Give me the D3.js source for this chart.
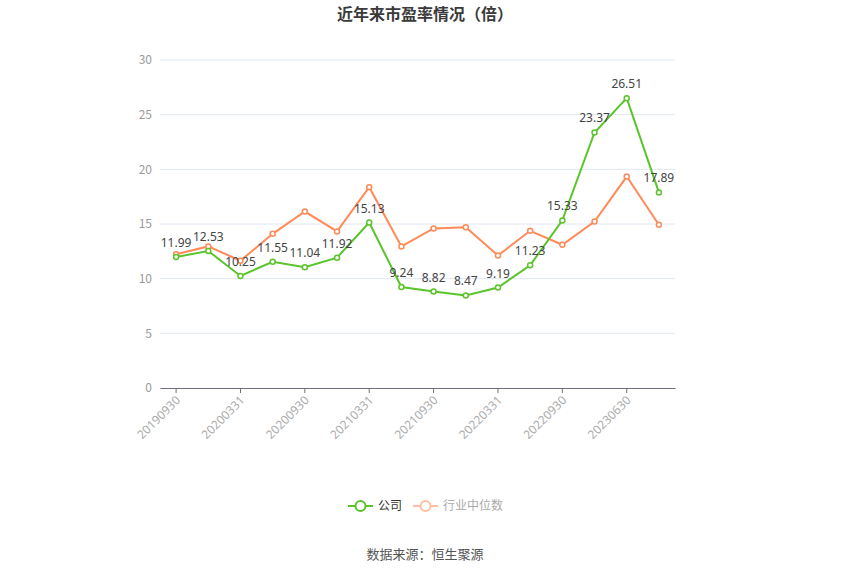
<!DOCTYPE html>
<html>
<head>
<meta charset="utf-8">
<script src="https://cdn.jsdelivr.net/npm/d3@7"></script>
<style>
  body { margin: 0; background: #fff; }
  svg { font-family: "Noto Sans CJK SC", "Noto Sans", sans-serif; }
</style>
</head>
<body>
<div id="chart"></div>
<script>
// periods (only every other one gets a label)
const periods = ["20190930", "20191231", "20200331", "20200630", "20200930", "20201231",
  "20210331", "20210630", "20210930", "20211231", "20220331", "20220630",
  "20220930", "20230331", "20230630", "20230930"];
const companyPE = [11.99, 12.53, 10.25, 11.55, 11.04, 11.92, 15.13, 9.24, 8.82, 8.47, 9.19, 11.23, 15.33, 23.37, 26.51, 17.89];
const industryPE = [12.24, 12.95, 11.64, 14.1, 16.14, 14.32, 18.37, 12.95, 14.59, 14.71, 12.12, 14.38, 13.1, 15.23, 19.34, 14.93];
const yTicks = [0, 5, 10, 15, 20, 25, 30];

const width = 850;
const height = 575;
const margin = { top: 60, right: 175, bottom: 187, left: 160 };

const green = "#5ac42a";
const orange = "#ff8a58";

const svg = d3.select("#chart")
  .append("svg")
  .attr("width", width)
  .attr("height", height);

const x = d3.scaleBand()
  .domain(periods)
  .range([margin.left, width - margin.right]);

const y = d3.scaleLinear()
  .domain([0, 30])
  .range([height - margin.bottom, margin.top]);

const cx = d => x(d) + x.bandwidth() / 2;

// title
svg.append("text")
  .attr("x", width / 2)
  .attr("y", 20)
  .attr("text-anchor", "middle")
  .attr("font-size", 16)
  .attr("font-weight", "bold")
  .attr("fill", "#3a3a3a")
  .text("近年来市盈率情况（倍）");

// grid lines
svg.append("g")
  .selectAll("line")
  .data(yTicks.filter(t => t > 0))
  .enter().append("line")
  .attr("x1", margin.left)
  .attr("x2", width - margin.right)
  .attr("y1", d => y(d))
  .attr("y2", d => y(d))
  .attr("stroke", "#e0e6f1")
  .attr("stroke-width", 1);

// y axis labels
svg.append("g")
  .selectAll("text")
  .data(yTicks)
  .enter().append("text")
  .attr("x", margin.left - 8)
  .attr("y", d => y(d))
  .attr("dy", "0.35em")
  .attr("text-anchor", "end")
  .attr("font-size", 12)
  .attr("fill", "#999")
  .text(d => d);

// x axis
const xAxis = d3.axisBottom(x)
  .tickValues(periods.filter((d, i) => i % 2 === 0))
  .tickSize(5)
  .tickSizeOuter(0);

const gx = svg.append("g")
  .attr("transform", `translate(0,${y(0)})`)
  .call(xAxis);

gx.select(".domain").attr("stroke", "#6e7079");
gx.selectAll(".tick line").attr("stroke", "#6e7079");
gx.selectAll(".tick text")
  .attr("font-size", 12)
  .attr("fill", "#aaa")
  .attr("font-family", "'Noto Sans', sans-serif")
  .attr("text-anchor", "end")
  .attr("x", 0)
  .attr("y", 0)
  .attr("dy", "0.35em")
  .attr("transform", "translate(2,10) rotate(-45)");

const line = d3.line()
  .x((d, i) => cx(periods[i]))
  .y(d => y(d));

function drawSeries(values, color) {
  svg.append("path")
    .datum(values)
    .attr("fill", "none")
    .attr("stroke", color)
    .attr("stroke-width", 2)
    .attr("d", line);

  svg.append("g")
    .selectAll("circle")
    .data(values)
    .enter().append("circle")
    .attr("cx", (d, i) => cx(periods[i]))
    .attr("cy", d => y(d))
    .attr("r", 2.5)
    .attr("fill", "#fff")
    .attr("stroke", color)
    .attr("stroke-width", 1.5);
}

drawSeries(industryPE, orange);
drawSeries(companyPE, green);

// value labels for company
svg.append("g")
  .selectAll("text")
  .data(companyPE)
  .enter().append("text")
  .attr("x", (d, i) => cx(periods[i]))
  .attr("y", d => y(d) - 10)
  .attr("text-anchor", "middle")
  .attr("font-size", 12)
  .attr("fill", "#444")
  .attr("font-family", "'Noto Sans', sans-serif")
  .text(d => d.toFixed(2));

// legend
const legend = svg.append("g").attr("transform", "translate(0,506)");
const items = [
  { name: "公司", color: green, text: "#333", x: 348 },
  { name: "行业中位数", color: "#ffbfa3", text: "#aaa", x: 413 }
];
items.forEach(it => {
  legend.append("line")
    .attr("x1", it.x).attr("x2", it.x + 25)
    .attr("y1", 0).attr("y2", 0)
    .attr("stroke", it.color).attr("stroke-width", 2);
  legend.append("circle")
    .attr("cx", it.x + 12.5).attr("cy", 0).attr("r", 5)
    .attr("fill", "#fff").attr("stroke", it.color).attr("stroke-width", 2);
  legend.append("text")
    .attr("x", it.x + 30).attr("y", 0).attr("dy", "0.35em")
    .attr("font-size", 12).attr("fill", it.text)
    .text(it.name);
});

// source
svg.append("text")
  .attr("x", width / 2)
  .attr("y", 559)
  .attr("text-anchor", "middle")
  .attr("font-size", 13)
  .attr("fill", "#555")
  .text("数据来源：恒生聚源");
</script>
</body>
</html>
